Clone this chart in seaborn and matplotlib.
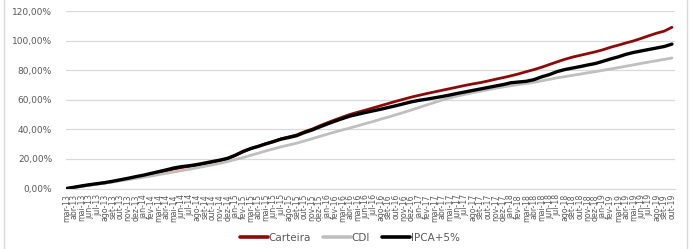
import numpy as np
import pandas as pd
import seaborn as sns
import matplotlib.pyplot as plt
from matplotlib.lines import Line2D

# month labels (pt-BR), mar-13 .. out-19
meses = ["jan", "fev", "mar", "abr", "mai", "jun", "jul", "ago", "set", "out", "nov", "dez"]
labels = []
for ano in range(2013, 2020):
    for i, m in enumerate(meses):
        if ano == 2013 and i < 2:
            continue
        if ano == 2019 and i > 9:
            continue
        labels.append(f"{m}-{str(ano)[2:]}")

# accumulated return (%), one value per month
carteira = [0, 0.8, 1.6, 2.4, 3.1, 3.8, 4.6, 5.6, 6.6, 7.6,
            8.6, 9.7, 10.9, 12.0, 13.2, 14.2, 15.0, 15.8, 16.8, 17.8, 18.9, 20.2,
            22.3, 24.8, 26.9, 28.5, 30.3, 31.9, 33.6, 34.9, 36.2, 38.3, 40.1, 42.3,
            44.4, 46.4, 48.3, 50.1, 51.6, 53.0, 54.5, 56.0, 57.5, 59.0, 60.4, 61.8,
            63.0, 64.2, 65.3, 66.4, 67.5, 68.6, 69.7, 70.7, 71.6, 72.7, 73.9, 75.0,
            76.2, 77.5, 79.0, 80.4, 82.0, 83.8, 85.6, 87.3, 88.8, 90.0, 91.2, 92.4,
            93.8, 95.5, 96.9, 98.4, 99.8, 101.5, 103.3, 105.0, 106.4, 109.0]
cdi = [0, 0.7, 1.4, 2.2, 2.9, 3.6, 4.4, 5.2, 6.0, 6.8,
       7.6, 8.4, 9.4, 10.3, 11.2, 12.1, 13.0, 14.0, 15.0, 16.0, 17.0, 18.2,
       19.6, 20.9, 22.4, 23.9, 25.4, 26.8, 28.2, 29.4, 30.6, 32.1, 33.6, 35.2,
       36.7, 38.2, 39.6, 41.0, 42.4, 43.9, 45.3, 46.9, 48.3, 49.9, 51.5, 53.1,
       54.8, 56.5, 58.2, 59.8, 61.2, 62.5, 63.7, 64.8, 65.8, 66.8, 67.8, 68.7,
       69.5, 70.3, 71.0, 71.8, 72.8, 73.8, 74.8, 75.6, 76.5, 77.3, 78.2, 79.0,
       79.9, 80.8, 81.7, 82.7, 83.6, 84.6, 85.5, 86.4, 87.3, 88.2]
ipca5 = [0, 0.9, 1.8, 2.6, 3.3, 4.0, 4.9, 5.9, 6.9, 8.0,
         9.0, 10.2, 11.4, 12.6, 13.9, 14.8, 15.4, 16.2, 17.2, 18.2, 19.2, 20.4,
         22.5, 25.0, 27.0, 28.5, 30.2, 31.7, 33.4, 34.5, 35.7, 37.8, 39.5, 41.6,
         43.6, 45.5, 47.3, 49.0, 50.2, 51.4, 52.5, 53.6, 54.8, 56.0, 57.3, 58.6,
         59.6, 60.4, 61.3, 62.2, 63.2, 64.3, 65.3, 66.3, 67.3, 68.3, 69.3, 70.3,
         71.5, 72.0, 72.5, 73.6, 75.5, 77.0, 79.0, 80.4, 81.4, 82.4, 83.5, 84.5,
         86.0, 87.6, 89.0, 90.7, 92.0, 93.0, 94.0, 95.0, 96.0, 97.6]

series = ["Carteira", "CDI", "IPCA+5%"]
cores = {"Carteira": "#8B0A0A", "CDI": "#BFBFBF", "IPCA+5%": "#000000"}
larguras = {"Carteira": 2.0, "CDI": 2.0, "IPCA+5%": 2.4}

df = pd.DataFrame({"idx": np.arange(len(labels)), "Carteira": carteira,
                   "CDI": cdi, "IPCA+5%": ipca5})
df_long = df.melt(id_vars="idx", var_name="serie", value_name="valor")

sns.set_style("white")
plt.rcParams["font.family"] = ["DejaVu Sans"]

fig = plt.figure(figsize=(6.93, 2.49), dpi=100)
ax = fig.add_axes([66 / 693, 1 - 188.5 / 249, (675 - 66) / 693, (188.5 - 11) / 249])

for s in series:
    sns.lineplot(data=df_long[df_long["serie"] == s], x="idx", y="valor",
                 color=cores[s], linewidth=larguras[s], ax=ax, legend=False)

ax.set_ylim(0, 120)
ax.set_xlim(-0.1, 79.4)
ax.set_yticks(range(0, 121, 20))
ax.set_yticklabels([f"{v},00%" for v in range(0, 121, 20)], fontsize=6.5, color="#595959")
ax.set_xticks(range(len(labels)))
ax.set_xticklabels(labels, rotation=90, fontsize=5.6, color="#595959")
ax.set_xlabel("")
ax.set_ylabel("")
ax.grid(axis="y", color="#D9D9D9", linewidth=0.9)
ax.set_axisbelow(True)
for sp in ["top", "right", "left"]:
    ax.spines[sp].set_visible(False)
ax.spines["bottom"].set_color("#D9D9D9")
ax.tick_params(axis="y", length=0, pad=10)
ax.tick_params(axis="x", length=3, width=0.6, color="#D9D9D9", pad=1)

handles = [Line2D([], [], color=cores[s], linewidth=2.6) for s in series]
fig.legend(handles, series, loc="center", bbox_to_anchor=(0.505, 0.045), ncol=3,
           frameon=False, fontsize=7.5, handlelength=2.6, handletextpad=0.1,
           columnspacing=1.2, labelcolor="#595959")

# chart area border (left / right)
fig.add_artist(Line2D([4 / 693, 4 / 693], [0, 1], transform=fig.transFigure,
                      color="#D9D9D9", linewidth=1))
fig.add_artist(Line2D([687 / 693, 687 / 693], [0, 1], transform=fig.transFigure,
                      color="#D9D9D9", linewidth=1))

fig.savefig("out.png", dpi=100)
